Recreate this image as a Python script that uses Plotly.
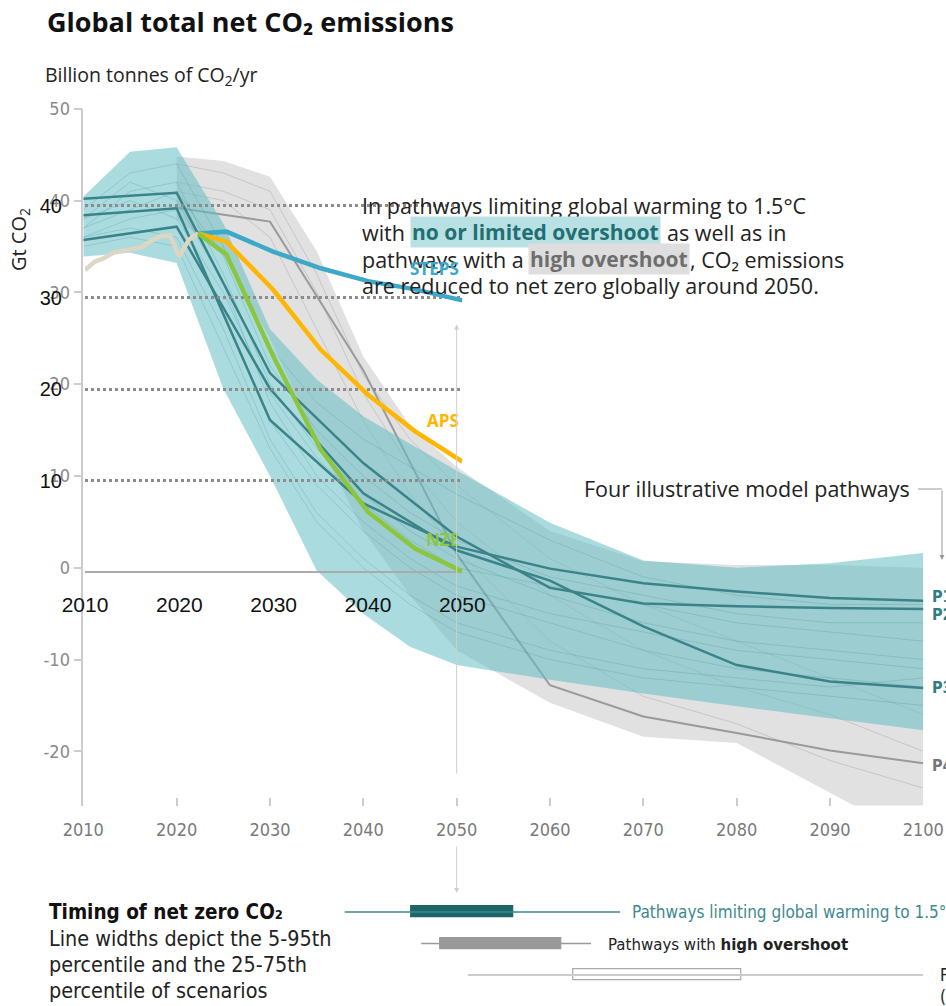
import plotly.graph_objects as go

W, H = 946, 1006


def fx(p):
    return p / W


def fy(p):
    return 1 - p / H


NARROW = "Liberation Sans Narrow, DejaVu Sans Condensed, Roboto Condensed, Roboto, sans-serif"
SANS = "Open Sans, Noto Sans, sans-serif"
ARIAL = "Liberation Sans, Arial, sans-serif"

# ---------------- IPCC pathways (outer chart) ----------------
years_band = [2010, 2015, 2020, 2025, 2030, 2035, 2040, 2045, 2050, 2060, 2070, 2080, 2090, 2100]
teal_upper = [40.4, 45.3, 45.8, 37.5, 26.0, 20.5, 16.5, 13.5, 10.6, 4.9, 0.8, 0.0, 0.5, 1.6]
teal_lower = [33.9, 34.3, 33.2, 19.5, 10.0, -0.3, -5.0, -8.6, -10.6, -12.2, -13.7, -15.1, -16.4, -17.7]

years_gray = [2020, 2025, 2030, 2035, 2040, 2045, 2050, 2060, 2070, 2080, 2090, 2100]
gray_upper = [44.8, 44.3, 42.6, 34.5, 23.0, 15.5, 11.0, 4.0, 0.7, 0.3, 0.3, 0.0]
gray_lower = [38.0, 34.0, 25.0, 14.0, 4.0, -3.0, -9.0, -14.7, -18.4, -19.1, -24.5, -30.0]

# faint individual scenarios inside the bands
teal_scen = [
    [39, 43, 44, 35, 24, 18, 14, 11, 8, 3, -1, -3, -4, -4],
    [37, 41, 42, 32, 20, 13, 8, 4, 1, -3, -6, -8, -9, -10],
    [36, 38, 39, 28, 16, 9, 4, 0, -3, -6, -9, -11, -12, -13],
    [35, 36, 35, 24, 13, 5, 0, -4, -7, -10, -12, -13, -14, -15],
    [38, 40, 38, 30, 19, 12, 7, 3, 0, -2, -4, -6, -7, -8],
    [37, 39, 41, 34, 22, 15, 10, 6, 3, -1, -3, -5, -6, -6],
    [36, 37, 36, 26, 14, 6, 1, -3, -6, -9, -11, -12, -13, -12],
    [38, 42, 40, 31, 18, 10, 5, 1, -2, -5, -7, -9, -10, -11],
]
gray_scen = [
    [44, 43, 41, 32, 21, 14, 9, 1, -4, -8, -12, -16],
    [42, 41, 39, 30, 19, 11, 5, -3, -9, -13, -16, -20],
    [41, 40, 36, 26, 16, 8, 2, -8, -14, -17, -21, -24],
]

years_p = [2010, 2020, 2030, 2040, 2050, 2060, 2070, 2080, 2090, 2100]
p1 = [38.4, 39.15, 16.1, 7.0, 2.3, -0.1, -1.7, -2.6, -3.3, -3.6]
p2 = [40.2, 40.85, 21.2, 11.4, 3.4, -2.2, -3.9, -4.2, -4.4, -4.5]
p3 = [35.7, 37.15, 19.5, 8.1, 1.9, -1.4, -6.4, -10.6, -12.4, -13.1]
years_p4 = [2020, 2030, 2040, 2050, 2060, 2070, 2080, 2090, 2100]
p4 = [39.2, 37.7, 21.5, 1.5, -12.8, -16.2, -18.0, -19.9, -21.3]

# ---------------- IEA scenarios (inner chart) ----------------
years_hist = list(range(2010, 2023))
hist = [33.0, 33.9, 34.3, 34.9, 35.1, 35.3, 35.5, 36.2, 36.7, 36.8, 34.5, 36.3, 37.0]
years_proj = [2022, 2025, 2030, 2035, 2040, 2045, 2050]
steps = [37.0, 37.2, 35.0, 33.2, 31.8, 30.9, 29.7]
aps = [37.0, 36.1, 30.8, 24.3, 19.4, 15.4, 12.1]
nze = [37.0, 34.7, 23.5, 13.4, 6.6, 2.6, 0.1]

# ---------------- Timing of net zero ----------------
timing_rows = ["1.5C no or limited overshoot", "high overshoot", "below 2C"]
p5 = [2038.0, 2046.2, 2051.2]
p25 = [2045.1, 2048.3, 2062.5]
p75 = [2056.1, 2061.2, 2080.5]
p95 = [2067.5, 2064.4, 2100.0]

outer_ticks = [-20, -10, 0, 10, 20, 30, 40, 50]
outer_ticktext = ["-20", "-10", "0", "10", "20", "30", "40", "50"]
inner_ticks = [10, 20, 30, 40]
x_outer_ticks = list(range(2010, 2101, 10))
x_inner_ticks = list(range(2010, 2051, 10))

fig = go.Figure()


def band(xs, up, lo, color, axes=("x", "y")):
    fig.add_trace(go.Scatter(x=xs, y=up, mode="lines", line=dict(width=0), hoverinfo="skip",
                             showlegend=False, xaxis=axes[0], yaxis=axes[1]))
    fig.add_trace(go.Scatter(x=xs, y=lo, mode="lines", line=dict(width=0), fill="tonexty",
                             fillcolor=color, hoverinfo="skip", showlegend=False,
                             xaxis=axes[0], yaxis=axes[1]))


band(years_gray, gray_upper, gray_lower, "rgba(200,200,200,0.55)")
for s in gray_scen:
    fig.add_trace(go.Scatter(x=years_gray, y=s, mode="lines",
                             line=dict(color="rgba(150,150,150,0.35)", width=1),
                             hoverinfo="skip", showlegend=False))
fig.add_trace(go.Scatter(x=years_p4, y=p4, mode="lines", line=dict(color="#9a9a9a", width=2),
                         showlegend=False))
band(years_band, teal_upper, teal_lower, "rgba(100,190,197,0.55)")
for s in teal_scen:
    fig.add_trace(go.Scatter(x=years_band, y=s, mode="lines",
                             line=dict(color="rgba(50,135,140,0.22)", width=1),
                             hoverinfo="skip", showlegend=False))
for p in (p1, p2, p3):
    fig.add_trace(go.Scatter(x=years_p, y=p, mode="lines", line=dict(color="#3a8489", width=2.5),
                             showlegend=False))

# IEA lines
fig.add_trace(go.Scatter(x=years_hist, y=hist, mode="lines", line=dict(color="#dcd6c3", width=4.5),
                         xaxis="x2", yaxis="y2", showlegend=False))
fig.add_trace(go.Scatter(x=years_proj, y=steps, mode="lines", line=dict(color="#3ea8c8", width=4.5),
                         xaxis="x2", yaxis="y2", showlegend=False))
fig.add_trace(go.Scatter(x=years_proj, y=aps, mode="lines", line=dict(color="#ffb600", width=4.5),
                         xaxis="x2", yaxis="y2", showlegend=False))
fig.add_trace(go.Scatter(x=years_proj, y=nze, mode="lines", line=dict(color="#8cc63f", width=4.5),
                         xaxis="x2", yaxis="y2", showlegend=False))

# timing rows
whisker_colors = ["#3d8a8e", "#999999", "#cccccc"]
whisker_widths = [1.5, 1.3, 2]
bar_colors = ["#1c6668", "#999999", "#ffffff"]
bar_lines = ["#1c6668", "#999999", "#aaaaaa"]
for i, row in enumerate(timing_rows):
    fig.add_trace(go.Scatter(x=[p5[i], p95[i]], y=[row, row], mode="lines",
                             line=dict(color=whisker_colors[i], width=whisker_widths[i]),
                             xaxis="x3", yaxis="y3", showlegend=False))
    fig.add_trace(go.Bar(x=[p75[i] - p25[i]], base=[p25[i]], y=[row], orientation="h", width=0.34,
                         marker=dict(color=bar_colors[i], line=dict(color=bar_lines[i], width=1.2)),
                         xaxis="x3", yaxis="y3", showlegend=False))

ann = []


def text(px, py, s, size=19, color="#222", family=SANS, anchor="left", **kw):
    ann.append(dict(x=fx(px), y=fy(py), xref="paper", yref="paper", text=s, showarrow=False,
                    xanchor=anchor, yanchor="middle", font=dict(size=size, color=color, family=family), **kw))


text(45, 22, "<b>Global total net CO₂ emissions</b>", size=27, color="#111")
text(43, 75, "Billion tonnes of CO<sub>2</sub>/yr", size=19.5, color="#222")
ann.append(dict(x=fx(20), y=fy(240), xref="paper", yref="paper", text="Gt CO<sub>2</sub>", textangle=-90,
                showarrow=False, xanchor="center", yanchor="middle",
                font=dict(size=20, color="#222", family=SANS)))

# paragraph
PS = 21.5
text(360, 205, "In pathways limiting global warming to 1.5°C", size=PS)
text(360, 232, "with", size=PS)
text(410, 232, "<b>no or limited overshoot</b>", size=21, color="#1f6f73", bgcolor="#b9e0e3")
text(665, 232, "as well as in", size=PS)
text(360, 259, "pathways with a", size=PS)
text(528, 259, "<b>high overshoot</b>", size=21, color="#6e6e6e", bgcolor="#dedede")
text(688, 259, ", CO₂ emissions", size=PS)
text(360, 286, "are reduced to net zero globally around 2050.", size=PS)

# IEA labels
text(461, 268, "<b>STEPS</b>", size=17, color="#3ea8c8", anchor="right")
text(461, 420, "<b>APS</b>", size=17, color="#ffb600", anchor="right")
text(461, 539, "<b>NZE</b>", size=17, color="#8cc63f", anchor="right")

# illustrative pathways
text(912, 489, "Four illustrative model pathways", size=21.5, anchor="right")
for lab, py, col in (("P1", 596, "#2f7c81"), ("P2", 614, "#2f7c81"), ("P3", 687, "#2f7c81"), ("P4", 765, "#777")):
    text(930, py, "<b>" + lab + "</b>", size=16, color=col, family=NARROW)

# timing texts
text(47, 912, "<b>Timing of net zero CO₂</b>", size=20.5, color="#111", family=NARROW)
text(47, 938, "Line widths depict the 5-95th", size=21.4, color="#222", family=NARROW)
text(47, 964, "percentile and the 25-75th", size=21.4, color="#222", family=NARROW)
text(47, 990, "percentile of scenarios", size=21.4, color="#222", family=NARROW)
text(630, 912, "Pathways limiting global warming to 1.5°C", size=17, color="#3d8a8e", family=NARROW)
text(606, 944, "Pathways with <b>high overshoot</b>", size=16.7, color="#222", family=NARROW)
text(938, 975, "Pathways limiting global warming below 2°C", size=17, color="#222", family=NARROW)
text(938, 997, "(Not shown above)", size=17, color="#222", family=NARROW)

# arrows
ann.append(dict(x=2050, y=26.5, xref="x", yref="y", ax=2050, ay=-22.6, axref="x", ayref="y",
                showarrow=True, arrowhead=2, arrowsize=1, arrowwidth=1, arrowcolor="#cfcfcf", text=""))
ann.append(dict(x=2050, y=fy(893), xref="x", yref="paper", ax=0, ay=-48,
                showarrow=True, arrowhead=2, arrowsize=1, arrowwidth=1, arrowcolor="#cfcfcf", text=""))
ann.append(dict(x=fx(942), y=fy(560), xref="paper", yref="paper", ax=0, ay=-71,
                showarrow=True, arrowhead=2, arrowsize=1, arrowwidth=1, arrowcolor="#999", text=""))

shapes = [dict(type="line", xref="paper", yref="paper", x0=fx(918), x1=fx(942), y0=fy(489), y1=fy(489),
               line=dict(color="#999", width=1))]

fig.update_layout(
    width=W, height=H, margin=dict(l=0, r=0, t=0, b=0, autoexpand=False),
    paper_bgcolor="white", plot_bgcolor="rgba(0,0,0,0)", showlegend=False,
    bargap=0,
    xaxis=dict(domain=[fx(83.3), fx(923.3)], range=[2010, 2100], tickvals=x_outer_ticks,
               ticks="inside", ticklen=8, tickcolor="#cccccc", tickwidth=1.5, showline=False,
               showgrid=False, zeroline=False, anchor="y", ticklabelstandoff=11, automargin=False,
               tickfont=dict(family=NARROW, size=18, color="#7a7a7a")),
    yaxis=dict(domain=[fy(805.5), fy(108.7)], range=[-25.9, 50], tickvals=outer_ticks,
               ticktext=outer_ticktext, ticks="outside", ticklen=8, tickcolor="#cccccc",
               tickwidth=1.5, showline=True, linecolor="#cccccc", linewidth=1.5, showgrid=False,
               zeroline=False, anchor="x", automargin=False,
               tickfont=dict(family=NARROW, size=18, color="#8a8a8a")),
    xaxis2=dict(domain=[fx(85), fx(462.3)], range=[2010, 2050], tickvals=x_inner_ticks,
                showline=False, ticks="", showgrid=False, zeroline=False, anchor="y2", automargin=False,
                ticklabelstandoff=15, tickfont=dict(family=ARIAL, size=21, color="#111")),
    yaxis2=dict(domain=[fy(575), fy(160)], range=[-0.284, 45.02], tickvals=inner_ticks,
                showgrid=True, gridcolor="#8c8c8c", griddash="dot", gridwidth=2.5,
                zeroline=True, zerolinecolor="#aaaaaa", zerolinewidth=1.5, showline=False,
                ticks="", anchor="x2", ticklabelstandoff=22, automargin=False,
                tickfont=dict(family=ARIAL, size=20, color="#111")),
    xaxis3=dict(domain=[fx(83.3), fx(923.3)], range=[2010, 2100], visible=False, anchor="y3",
                automargin=False),
    yaxis3=dict(domain=[fy(990.75), fy(896.25)], type="category", categoryarray=timing_rows,
                range=[2.5, -0.5], visible=False, anchor="x3", automargin=False),
    annotations=ann, shapes=shapes,
)

fig.write_html("out.html", post_script="document.body.style.margin='0';",
               config={"displayModeBar": False})
